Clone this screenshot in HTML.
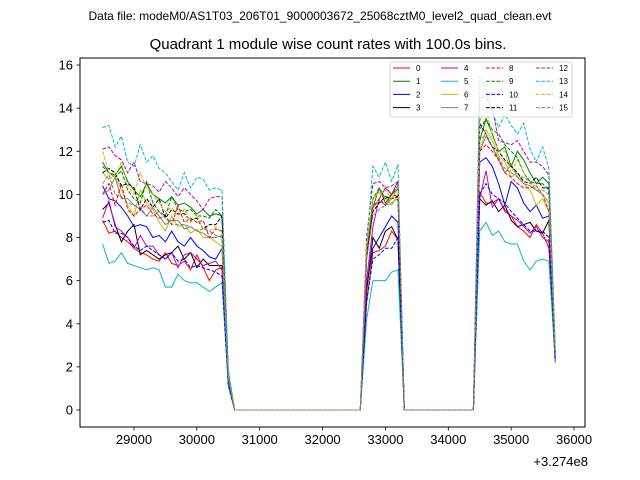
<!DOCTYPE html>
<html><head><meta charset="utf-8"><style>
body{margin:0;background:#fff;}
svg{display:block;font-family:"Liberation Sans","DejaVu Sans",sans-serif;}
</style></head><body>
<svg id="chart" width="640" height="480" xmlns="http://www.w3.org/2000/svg">
<rect width="640" height="480" fill="#fff"/>
<text x="320" y="20" font-size="12" text-anchor="middle">Data file: modeM0/AS1T03_206T01_9000003672_25068cztM0_level2_quad_clean.evt</text>
<text x="328" y="49" font-size="15" text-anchor="middle">Quadrant 1 module wise count rates with 100.0s bins.</text>
<g id="marks"></g>
<rect x="80" y="58" width="505" height="369" fill="none" stroke="#000" stroke-width="1"/>
<g id="axes"></g>
<text x="588" y="466" font-size="13" text-anchor="end">+3.274e8</text>
<g id="legend"></g>
</svg>
<script>
const xTicks=[29000,30000,31000,32000,33000,34000,35000,36000];
const yTicks=[0,2,4,6,8,10,12,14,16];
const seriesNames=["0","1","2","3","4","5","6","7","8","9","10","11","12","13","14","15"];
const segATimes=[28500,28600,28700,28800,28900,29000,29100,29200,29300,29400,29500,29600,29700,29800,29900,30000,30100,30200,30300,30400,30500];
const zeroTimesA=[30600,30700,30800,30900,31000,31100,31200,31300,31400,31500,31600,31700,31800,31900,32000,32100,32200,32300,32400,32500,32600];
const segBTimes=[32700,32800,32900,33000,33100,33200];
const zeroTimesB=[33300,33400,33500,33600,33700,33800,33900,34000,34100,34200,34300,34400];
const segCTimes=[34500,34600,34700,34800,34900,35000,35100,35200,35300,35400,35500,35600,35700];
const s0A=[8.8,8.2,8.3,8.0,7.8,7.5,7.3,7.2,7.0,6.9,7.3,6.8,6.7,6.9,6.5,7.2,6.6,6.0,6.5,6.6,1.2];
const s0B=[5.0,7.3,7.4,7.6,8.3,7.9];
const s0C=[10.1,9.6,9.6,9.8,9.3,9.0,8.5,8.3,8.0,8.6,8.2,7.5,2.3];
const s1A=[11.5,11.0,10.9,11.3,10.6,10.2,9.9,10.5,10.0,9.8,9.6,9.9,9.5,9.6,9.4,9.1,9.3,9.0,9.1,9.0,1.6];
const s1B=[7.0,9.4,10.3,9.6,10.0,10.3];
const s1C=[12.5,13.5,12.8,12.0,12.2,11.3,12.0,11.6,11.0,10.5,10.8,10.5,2.6];
const s2A=[10.4,9.8,9.7,9.4,9.0,8.5,8.6,8.5,8.0,8.1,7.8,8.3,7.8,7.6,8.0,7.6,7.4,7.1,7.0,7.5,1.4];
const s2B=[5.7,7.5,8.0,8.5,9.0,8.7];
const s2C=[11.5,11.7,11.3,10.5,9.5,10.6,10.3,9.6,9.2,9.5,8.9,9.0,2.5];
const s3A=[9.3,9.6,8.6,7.8,8.3,8.6,7.2,7.4,7.2,7.0,7.2,7.3,7.6,7.0,7.3,6.6,7.0,6.7,6.7,6.7,1.3];
const s3B=[5.5,8.0,7.5,8.3,8.5,7.9];
const s3C=[9.8,9.5,9.7,9.2,9.5,8.8,8.5,8.6,8.7,8.3,8.2,8.8,2.4];
const s4A=[8.9,9.7,8.5,8.3,8.0,7.5,8.1,7.6,7.6,7.2,7.0,7.3,6.6,7.2,7.3,7.0,6.7,6.8,6.9,6.5,1.2];
const s4B=[6.0,8.5,9.8,10.3,10.0,10.6];
const s4C=[9.8,11.1,9.4,9.8,9.2,9.0,8.8,8.5,8.2,8.5,8.0,7.8,2.2];
const s5A=[7.7,6.8,6.9,7.3,6.8,6.7,6.6,6.5,6.6,6.5,5.7,5.7,6.3,6.0,5.9,5.9,5.7,5.5,5.7,5.9,1.1];
const s5B=[4.2,6.0,6.0,6.0,6.4,6.5];
const s5C=[8.3,8.7,8.1,8.3,7.8,7.7,7.7,6.9,6.5,6.9,7.0,6.9,2.3];
const s6A=[11.0,10.7,10.9,10.2,9.5,9.0,10.2,9.6,9.3,8.7,8.3,9.0,8.5,8.6,8.2,8.4,8.0,8.0,7.8,7.6,1.5];
const s6B=[7.5,9.8,10.1,9.8,9.5,10.0];
const s6C=[12.0,13.0,12.5,11.8,11.5,10.8,11.0,10.5,10.2,9.5,9.8,9.2,2.8];
const s7A=[10.0,10.2,10.8,9.8,9.8,9.5,9.3,9.0,9.4,9.0,8.6,8.8,8.8,8.4,8.5,8.3,8.2,8.0,8.0,8.1,1.5];
const s7B=[7.2,9.4,9.7,9.5,9.8,10.3];
const s7C=[12.0,12.7,12.2,11.6,11.0,11.4,10.8,10.5,10.4,10.2,10.0,9.6,2.6];
const s8A=[10.0,10.5,9.5,10.5,9.3,9.0,9.3,9.5,9.1,8.9,9.0,8.6,9.5,8.7,8.9,8.7,8.8,8.0,8.4,8.3,1.6];
const s8B=[7.0,9.4,9.8,9.5,10.0,9.9];
const s8C=[12.0,12.3,12.0,11.6,11.0,10.8,10.5,10.3,10.3,10.4,10.0,9.2,2.7];
const s9A=[11.3,11.0,10.8,11.1,10.2,9.8,9.6,10.6,9.6,9.2,9.0,9.9,9.3,9.2,9.3,9.0,9.0,8.9,9.3,9.0,1.7];
const s9B=[7.3,9.8,10.3,9.8,10.0,10.4];
const s9C=[13.0,13.5,13.0,12.8,12.3,12.0,11.7,11.0,10.6,10.5,10.5,10.2,2.7];
const s10A=[8.7,8.8,8.2,8.2,8.0,7.6,7.4,7.6,7.4,7.2,7.0,7.3,6.9,7.0,6.6,6.7,6.6,6.5,6.4,6.2,1.2];
const s10B=[5.0,7.0,7.2,7.5,7.5,8.0];
const s10C=[10.0,10.5,10.0,9.8,9.6,9.2,8.9,8.6,8.3,8.3,8.3,8.0,2.3];
const s11A=[11.0,11.2,11.0,10.4,10.5,10.3,9.3,9.8,9.4,9.8,8.9,9.3,9.1,9.1,8.8,8.9,8.4,8.6,8.6,9.0,1.6];
const s11B=[7.2,9.2,9.6,9.9,9.8,9.9];
const s11C=[13.3,12.8,12.2,12.0,11.6,11.3,11.0,10.6,10.5,10.8,10.3,10.3,2.7];
const s12A=[12.1,12.2,11.8,11.6,11.0,11.5,10.6,10.5,10.4,10.1,10.6,10.3,9.9,10.3,10.0,9.7,9.3,9.8,9.9,9.9,1.8];
const s12B=[8.0,10.5,10.6,10.3,10.4,10.6];
const s12C=[14.5,14.5,14.0,12.5,12.4,12.3,12.5,12.0,11.5,11.5,11.3,10.9,2.9];
const s13A=[13.1,13.2,12.2,12.7,11.5,11.3,12.3,11.5,11.8,11.2,11.0,10.6,10.2,11.0,10.3,10.8,10.7,10.2,10.3,10.2,1.9];
const s13B=[7.5,11.3,10.8,11.5,10.6,11.4];
const s13C=[15.5,14.8,13.8,13.1,13.7,13.2,12.8,13.3,12.1,11.5,12.2,11.2,3.0];
const s14A=[12.0,11.0,10.8,11.5,10.4,10.0,11.0,10.3,10.0,9.6,9.2,9.4,9.0,9.3,8.7,9.0,8.4,8.3,8.5,8.2,1.6];
const s14B=[7.5,9.9,10.0,10.2,9.8,10.4];
const s14C=[13.4,14.0,12.7,12.0,12.0,11.0,11.6,11.0,10.5,10.4,10.0,9.6,2.8];
const s15A=[10.5,10.9,10.0,9.9,9.6,9.5,9.4,9.0,9.0,9.2,8.9,8.6,8.6,8.6,8.5,8.3,8.4,8.3,8.1,8.0,1.5];
const s15B=[7.0,9.0,9.3,9.5,9.6,9.8];
const s15C=[12.5,12.8,12.2,11.7,11.2,11.0,10.8,10.8,10.6,10.2,10.2,10.0,2.6];

const segA=[s0A,s1A,s2A,s3A,s4A,s5A,s6A,s7A,s8A,s9A,s10A,s11A,s12A,s13A,s14A,s15A];
const segB=[s0B,s1B,s2B,s3B,s4B,s5B,s6B,s7B,s8B,s9B,s10B,s11B,s12B,s13B,s14B,s15B];
const segC=[s0C,s1C,s2C,s3C,s4C,s5C,s6C,s7C,s8C,s9C,s10C,s11C,s12C,s13C,s14C,s15C];
const colors=["#ff0000","#008000","#0000ff","#000000","#bf00bf","#00bfbf","#bfbf00","#808080"];

const NS="http://www.w3.org/2000/svg";
const X=t=>134+(t-29000)*0.06286;
const Y=v=>410-v*21.56;
function mk(tag,attrs,parent){const e=document.createElementNS(NS,tag);for(const k in attrs)e.setAttribute(k,attrs[k]);parent.appendChild(e);return e;}

const axes=document.getElementById('axes');
xTicks.forEach(t=>{
  const l=mk('line',{x1:X(t),x2:X(t),y1:427,y2:430.5,stroke:'#000','stroke-width':0.8},axes);
  
  
  const tx=mk('text',{x:X(t),y:444,'font-size':13,'text-anchor':'middle'},axes);
  tx.textContent=t;
  
  
});
yTicks.forEach(v=>{
  const l=mk('line',{x1:76.5,x2:80,y1:Y(v),y2:Y(v),stroke:'#000','stroke-width':0.8},axes);
  
  
  const tx=mk('text',{x:73,y:Y(v)+4.5,'font-size':13,'text-anchor':'end'},axes);
  tx.textContent=v;
  
  
});

const marks=document.getElementById('marks');
for(let i=0;i<16;i++){
  const pts=[];
  segATimes.forEach((t,j)=>pts.push([t,segA[i][j]]));
  zeroTimesA.forEach(t=>pts.push([t,0]));
  segBTimes.forEach((t,j)=>pts.push([t,segB[i][j]]));
  zeroTimesB.forEach(t=>pts.push([t,0]));
  segCTimes.forEach((t,j)=>pts.push([t,segC[i][j]]));
  const d=pts.map((p,k)=>(k?'L':'M')+X(p[0]).toFixed(1)+','+Y(p[1]).toFixed(1)).join('');
  const attrs={d:d,fill:'none',stroke:colors[i%8],'stroke-width':1};
  if(i>=8)attrs['stroke-dasharray']='3.7,1.6';
  const p=mk('path',attrs,marks);
  
  
}

const lg=document.getElementById('legend');
const box=mk('rect',{x:390,y:62,width:182,height:55,fill:'#fff','fill-opacity':0.8,stroke:'#ccc','stroke-width':0.8,rx:2},lg);


const colX=[393,441,486,536];
for(let i=0;i<16;i++){
  const c=Math.floor(i/4),r=i%4;
  const y=68+r*13.2;
  const g=mk('g',{},lg);
  
  
  const a={x1:colX[c],x2:colX[c]+17,y1:y,y2:y,stroke:colors[i%8],'stroke-width':1};
  if(i>=8)a['stroke-dasharray']='3.7,1.6';
  mk('line',a,g);
  const t=mk('text',{x:colX[c]+23,y:y+3,'font-size':8},g);
  t.textContent=seriesNames[i];
}
</script>
</body></html>
